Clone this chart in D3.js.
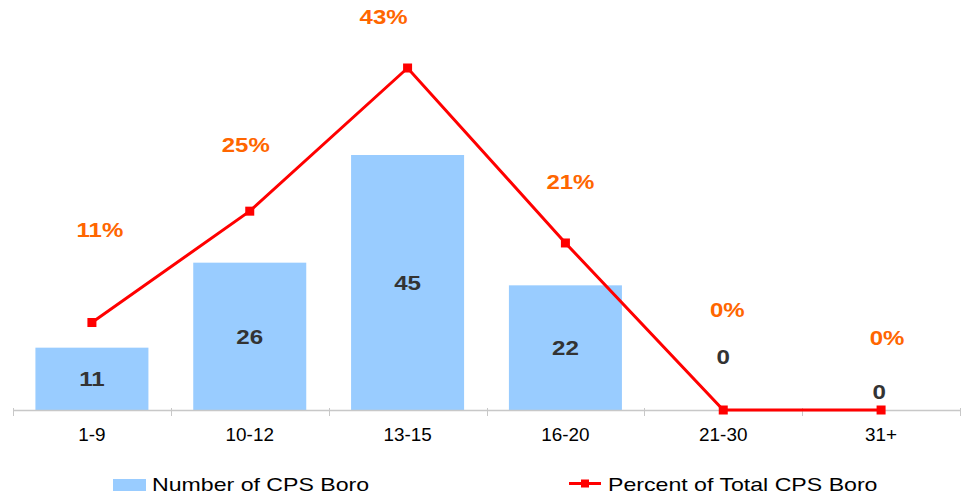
<!DOCTYPE html>
<html>
<head>
<meta charset="utf-8">
<script src="https://cdn.jsdelivr.net/npm/d3@7/dist/d3.min.js"></script>
<style>
  html, body { margin: 0; padding: 0; background: #fff; }
  svg { display: block; }
  text { font-family: "Liberation Sans", Arial, sans-serif; }
</style>
</head>
<body>
<svg id="chart" width="961" height="495"></svg>
<script>
const categories = ["1-9", "10-12", "13-15", "16-20", "21-30", "31+"];
const counts = [11, 26, 45, 22, 0, 0];
const percents = [11, 25, 43, 21, 0, 0];
const percentLabels = ["11%", "25%", "43%", "21%", "0%", "0%"];
const seriesNames = ["Number of CPS Boro", "Percent of Total CPS Boro"];
// hand-placed label offsets (px) as in the original
const pctLabelOffsets = [[8, -93], [-4, -67], [-24, -52], [5, -61], [4, -101], [6, -73]];
const countLabelOffsets = [[0, 0], [0, 0], [0, 0], [0, 0], [0, -54], [-2, -19]];

const svg = d3.select("#chart");
const baseY = 410;

const x = d3.scaleBand().domain(categories).range([13, 960]).paddingInner(0.284).paddingOuter(0.142);
const yBar = d3.scaleLinear().domain([0, 45]).range([baseY, 155]);
const yLine = d3.scaleLinear().domain([0, 43]).range([baseY, 68]);
const step = x.step();
const cx = c => x(c) + x.bandwidth() / 2;

// bars
svg.append("g").selectAll("rect").data(counts).join("rect")
  .attr("x", (d, i) => x(categories[i]))
  .attr("y", d => yBar(d))
  .attr("width", x.bandwidth())
  .attr("height", d => baseY - yBar(d))
  .attr("fill", "#99ccff");

// axis
const axisG = svg.append("g");
axisG.append("line").attr("x1", 13).attr("x2", 960).attr("y1", baseY + 0.5).attr("y2", baseY + 0.5)
  .attr("stroke", "#c8c8c8").attr("stroke-width", 1.5);
const bounds = d3.range(categories.length + 1).map(i => 13 + i * step);
axisG.selectAll("line.tick").data(bounds).join("line").attr("class", "tick")
  .attr("x1", d => Math.round(d) + 0.5).attr("x2", d => Math.round(d) + 0.5)
  .attr("y1", baseY - 2).attr("y2", baseY + 6)
  .attr("stroke", "#c8c8c8").attr("stroke-width", 1);
axisG.selectAll("text").data(categories).join("text")
  .attr("transform", d => `translate(${cx(d)},${440.5}) scale(1.05,1)`)
  .attr("text-anchor", "middle").attr("font-size", 18).attr("fill", "#000")
  .text(d => d);

// bar labels
svg.append("g").selectAll("text").data(counts).join("text")
  .attr("transform", (d, i) => `translate(${cx(categories[i]) + countLabelOffsets[i][0]},${(yBar(d) + baseY) / 2 + countLabelOffsets[i][1] + 7.5}) scale(1.15,1)`)
  .attr("text-anchor", "middle").attr("font-size", 21).attr("font-weight", "bold").attr("fill", "#333")
  .text(d => d);

// line
const line = d3.line().x((d, i) => cx(categories[i])).y(d => yLine(d));
svg.append("path").datum(percents).attr("d", line)
  .attr("fill", "none").attr("stroke", "#ff0000").attr("stroke-width", 3);
svg.append("g").selectAll("rect").data(percents).join("rect")
  .attr("x", (d, i) => cx(categories[i]) - 4.5).attr("y", d => yLine(d) - 4.5)
  .attr("width", 9).attr("height", 9).attr("fill", "#ff0000");

// percent labels
svg.append("g").selectAll("text").data(percents).join("text")
  .attr("transform", (d, i) => `translate(${cx(categories[i]) + pctLabelOffsets[i][0]},${yLine(d) + pctLabelOffsets[i][1] + 7.5}) scale(1.2,1)`)
  .attr("text-anchor", "middle").attr("font-size", 20).attr("font-weight", "bold").attr("fill", "#ff6600")
  .text((d, i) => percentLabels[i]);

// legend
const lg = svg.append("g");
lg.append("rect").attr("x", 113).attr("y", 479).attr("width", 33).attr("height", 12).attr("fill", "#99ccff");
lg.append("text").attr("transform", "translate(152,491) scale(1.25,1)")
  .attr("font-size", 18.5).attr("fill", "#000").text(seriesNames[0]);
lg.append("line").attr("x1", 569).attr("x2", 601).attr("y1", 483.5).attr("y2", 483.5)
  .attr("stroke", "#ff0000").attr("stroke-width", 3);
lg.append("rect").attr("x", 581).attr("y", 479.5).attr("width", 8).attr("height", 8).attr("fill", "#ff0000");
lg.append("text").attr("transform", "translate(608,491) scale(1.25,1)")
  .attr("font-size", 18.5).attr("fill", "#000").text(seriesNames[1]);
</script>
</body>
</html>
